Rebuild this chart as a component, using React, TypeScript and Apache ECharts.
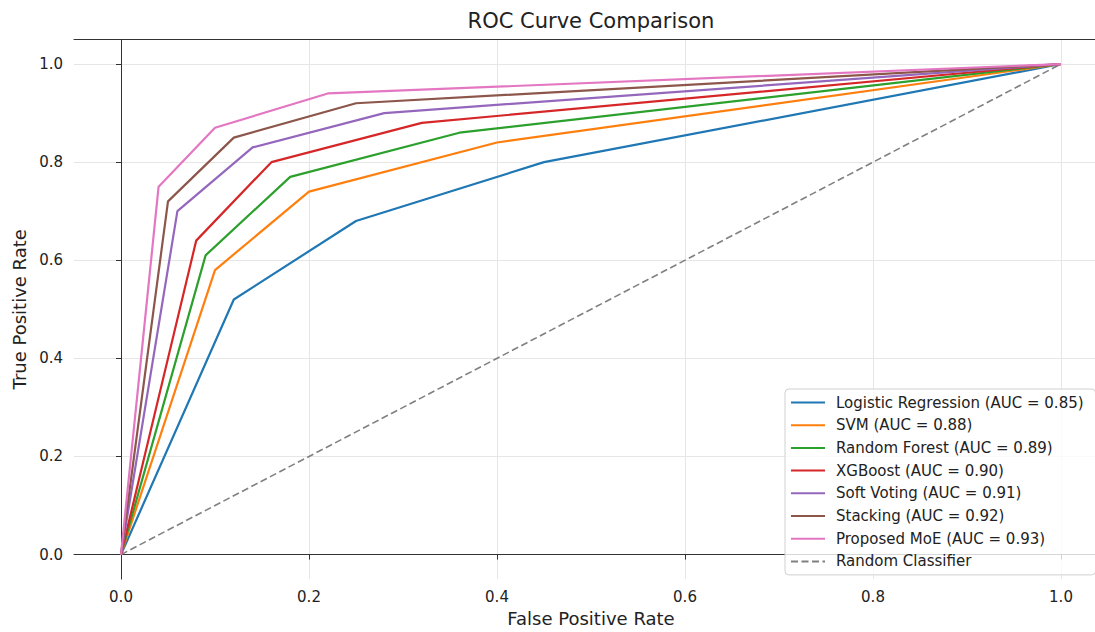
import React, { useEffect, useRef } from "react";
import * as echarts from "echarts";

const tickValues = [0, 0.2, 0.4, 0.6, 0.8, 1.0];

const seriesNames = [
  "Logistic Regression (AUC = 0.85)",
  "SVM (AUC = 0.88)",
  "Random Forest (AUC = 0.89)",
  "XGBoost (AUC = 0.90)",
  "Soft Voting (AUC = 0.91)",
  "Stacking (AUC = 0.92)",
  "Proposed MoE (AUC = 0.93)",
];

const fprLR = [0, 0.12, 0.25, 0.45, 1];
const tprLR = [0, 0.52, 0.68, 0.8, 1];
const fprSVM = [0, 0.1, 0.2, 0.4, 1];
const tprSVM = [0, 0.58, 0.74, 0.84, 1];
const fprRF = [0, 0.09, 0.18, 0.36, 1];
const tprRF = [0, 0.61, 0.77, 0.86, 1];
const fprXGB = [0, 0.08, 0.16, 0.32, 1];
const tprXGB = [0, 0.64, 0.8, 0.88, 1];
const fprSV = [0, 0.06, 0.14, 0.28, 1];
const tprSV = [0, 0.7, 0.83, 0.9, 1];
const fprST = [0, 0.05, 0.12, 0.25, 1];
const tprST = [0, 0.72, 0.85, 0.92, 1];
const fprMoE = [0, 0.04, 0.1, 0.22, 1];
const tprMoE = [0, 0.75, 0.87, 0.94, 1];
const fprRandom = [0, 1];
const tprRandom = [0, 1];

const colors = ["#1f77b4", "#ff7f0e", "#2ca02c", "#d62728", "#9467bd", "#8c564b", "#e377c2"];

const FONT = "DejaVu Sans";

function zip(xs: number[], ys: number[]) {
  return xs.map((x, i) => [x, ys[i]]);
}

export default function App() {
  const ref = useRef<HTMLDivElement>(null);
  useEffect(() => {
    if (!ref.current) return;
    const chart = echarts.init(ref.current, null, { renderer: "svg" });
    const curves = [
      zip(fprLR, tprLR),
      zip(fprSVM, tprSVM),
      zip(fprRF, tprRF),
      zip(fprXGB, tprXGB),
      zip(fprSV, tprSV),
      zip(fprST, tprST),
      zip(fprMoE, tprMoE),
    ];
    const series: any[] = curves.map((d, i) => ({
      name: seriesNames[i],
      type: "line",
      data: d,
      symbol: "none",
      color: colors[i],
      lineStyle: { width: 2.2, color: colors[i] },
      z: 3,
    }));
    series.push({
      name: "Random Classifier",
      type: "line",
      data: zip(fprRandom, tprRandom),
      symbol: "none",
      color: "#808080",
      lineStyle: { width: 1.6, color: "#808080", type: [7, 3.5] },
      z: 2,
    });

    const axisCommon = {
      type: "value",
      min: -0.05,
      max: 1.05,
      axisLine: { show: true, lineStyle: { color: "#333", width: 1 } },
      axisTick: { show: true, length: 5, customValues: tickValues, lineStyle: { color: "#333" } },
      axisLabel: {
        customValues: tickValues,
        formatter: (v: number) => v.toFixed(1),
        fontFamily: FONT,
        fontSize: 15,
        color: "#222",
      },
      splitLine: { show: true, lineStyle: { color: "#e6e6e6", width: 1 } },
    };

    chart.setOption({
      animation: false,
      backgroundColor: "#ffffff",
      grid: { left: 74, top: 39.5, width: 1034, height: 544.5, containLabel: false },
      graphic: [
        {
          type: "text",
          x: 591,
          y: 21,
          style: {
            text: "ROC Curve Comparison",
            fontFamily: FONT,
            fontSize: 21,
            fill: "#222",
            textAlign: "center",
            textVerticalAlign: "middle",
          },
        },
      ],
      xAxis: [
        {
          ...axisCommon,
          position: "bottom",
          axisLabel: { ...axisCommon.axisLabel, margin: 10 },
          name: "False Positive Rate",
          nameLocation: "middle",
          nameGap: 27,
          nameTextStyle: { fontFamily: FONT, fontSize: 18, color: "#222" },
        },
        {
          type: "value",
          position: "top",
          min: -0.05,
          max: 1.05,
          axisLine: { show: true, onZero: false, lineStyle: { color: "#333", width: 1 } },
          axisTick: { show: false },
          axisLabel: { show: false },
          splitLine: { show: false },
        },
      ],
      yAxis: [
        {
          ...axisCommon,
          position: "left",
          axisLabel: { ...axisCommon.axisLabel, margin: 11 },
          name: "True Positive Rate",
          nameLocation: "middle",
          nameGap: 45,
          nameTextStyle: { fontFamily: FONT, fontSize: 18, color: "#222" },
        },
        {
          type: "value",
          position: "right",
          min: -0.05,
          max: 1.05,
          axisLine: { show: true, onZero: false, lineStyle: { color: "#333", width: 1 } },
          axisTick: { show: false },
          axisLabel: { show: false },
          splitLine: { show: false },
        },
      ],
      legend: {
        orient: "vertical",
        left: 785,
        top: 389,
        itemWidth: 34,
        itemHeight: 17,
        itemGap: 5.7,
        padding: [5, 12, 5, 5],
        backgroundColor: "rgba(255,255,255,0.8)",
        borderColor: "#d0d0d0",
        borderWidth: 1,
        borderRadius: 4,
        itemStyle: { opacity: 0 },
        textStyle: { fontFamily: FONT, fontSize: 15, color: "#222", lineHeight: 17, padding: [0, 0, 0, 6] },
        data: [...seriesNames, "Random Classifier"],
      },
      series,
    });
    return () => chart.dispose();
  }, []);
  return (
    <div style={{ position: "absolute", left: 0, top: 0, width: 1095, height: 632, overflow: "hidden" }}>
      <div ref={ref} style={{ width: 1130, height: 632 }} />
    </div>
  );
}
